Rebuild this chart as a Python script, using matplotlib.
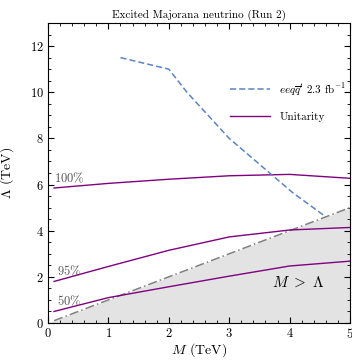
import numpy as np
import matplotlib.pyplot as plt
from matplotlib.ticker import MultipleLocator, FuncFormatter

plt.rcParams['mathtext.fontset'] = 'cm'
plt.rcParams['font.family'] = ['cmr10', 'DejaVu Serif']
plt.rcParams['axes.formatter.use_mathtext'] = True

# dijet-type limit curve
lim_m = [1.2, 2.0, 2.3, 3.0, 4.05, 4.6]
lim_lam = [11.5, 11.0, 10.0, 8.0, 5.65, 4.6]

# unitarity bounds
uni_m = [0.1, 1.0, 2.0, 3.0, 4.0, 5.0]
uni_100 = [5.85, 6.05, 6.23, 6.38, 6.44, 6.27]
uni_95 = [1.8, 2.45, 3.15, 3.73, 4.03, 4.14]
uni_50 = [0.5, 1.1, 1.57, 2.03, 2.47, 2.68]

diag = [0.1, 5.0]

if __name__ == '__main__':
    fig = plt.figure(figsize=(3.52, 3.61), dpi=100)
    ax = fig.add_axes([48 / 352, 38 / 361, 302 / 352, 300 / 361])

    ax.fill_between([0, 5], [0, 0], [0, 5], color='#e3e3e3', lw=0)
    ax.plot(diag, diag, color='#808080', ls=(0, (6, 2, 1, 2)), lw=1.1)

    purple = '#800080'
    ax.plot(uni_m, uni_100, color=purple, lw=1.0, label='Unitarity')
    ax.plot(uni_m, uni_95, color=purple, lw=1.0)
    ax.plot(uni_m, uni_50, color=purple, lw=1.0)
    ax.plot(lim_m, lim_lam, color='#5b84c4', ls=(0, (4, 2)), lw=1.1,
            label=r"$ee q\overline{q}'$ 2.3 fb$^{-1}$")

    ax.text(0.1, 6.1, r'$100\%$', color='#555555', fontsize=9)
    ax.text(0.15, 2.08, r'$95\%$', color='#555555', fontsize=9)
    ax.text(0.15, 0.78, r'$50\%$', color='#555555', fontsize=9)
    ax.text(4.15, 1.73, r'$M\ >\ \Lambda$', fontsize=11, ha='center', va='center')

    h, l = ax.get_legend_handles_labels()
    ax.legend(h[::-1], l[::-1], loc='upper right', bbox_to_anchor=(1.02, 0.84),
              frameon=False, fontsize=8, handlelength=3.6, labelspacing=1.3)

    ax.set_xlim(0, 5)
    ax.set_ylim(0, 13)
    ax.xaxis.set_major_locator(MultipleLocator(1))
    ax.xaxis.set_minor_locator(MultipleLocator(0.2))
    ax.yaxis.set_major_locator(MultipleLocator(2))
    ax.yaxis.set_minor_locator(MultipleLocator(0.5))
    bold = FuncFormatter(lambda v, p: r'$\mathbf{%d}$' % round(v))
    ax.xaxis.set_major_formatter(bold)
    ax.yaxis.set_major_formatter(bold)
    ax.tick_params(which='both', direction='in', top=True, right=True)
    ax.tick_params(which='major', length=4, labelsize=9, pad=3)
    ax.tick_params(which='minor', length=2)

    ax.set_xlabel(r'$M$ (TeV)', fontsize=10)
    ax.set_ylabel(r'$\Lambda$ (TeV)', fontsize=10)
    ax.xaxis.set_label_coords(0.5, -0.06)
    ax.yaxis.set_label_coords(-0.105, 0.5)
    ax.set_title('Excited Majorana neutrino (Run 2)', fontsize=8, pad=4)

    fig.savefig('out.png', dpi=100)
